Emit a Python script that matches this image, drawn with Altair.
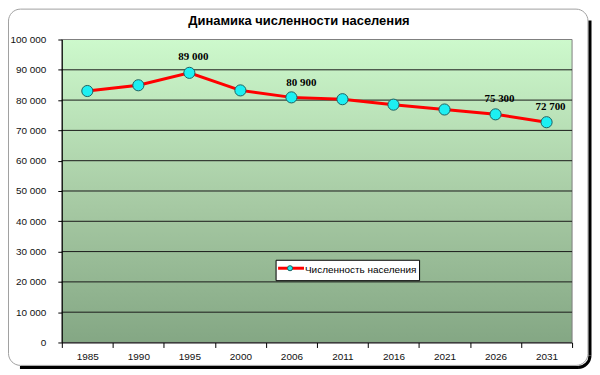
import math
import altair as alt
import pandas as pd

# ---- data ----
years = ["1985", "1990", "1995", "2000", "2006", "2011", "2016", "2021", "2026", "2031"]
population = [83000, 84900, 89000, 83200, 80900, 80300, 78500, 76900, 75300, 72700]
labeled_years = ["1995", "2026", "2031"]
labeled_years_right = ["2006"]
y_ticks = [0, 10000, 20000, 30000, 40000, 50000, 60000, 70000, 80000, 90000, 100000]
grid_values = [10000, 20000, 30000, 40000, 50000, 60000, 70000, 80000, 90000]
title_text = "Динамика численности населения"
legend_text = "Численность населения"

W, H = 512, 304
FONT = "Liberation Sans"
SERIF = "Liberation Serif"

df = pd.DataFrame({"year": years, "population": population})
one = pd.DataFrame({"a": [0]})

xscale = alt.Scale(paddingInner=0, paddingOuter=0)
yscale = alt.Scale(domain=[0, 100000], nice=False)

x_axis = alt.Axis(title=None, labelAngle=0, tickBand="extent", grid=False,
                  domainColor="black", tickColor="black", tickSize=5,
                  labelPadding=4, labelFont=FONT, labelFontSize=10,
                  labelColor="#111111", zindex=1)
y_axis = alt.Axis(title=None, values=y_ticks, grid=False,
                  labelExpr="replace(format(datum.value, ','), ',', ' ')",
                  domainColor="black", tickColor="black", tickSize=4,
                  labelPadding=12, labelFont=FONT, labelFontSize=10,
                  labelColor="#111111", zindex=1)
x_enc = alt.X("year:O", scale=xscale, sort=years, axis=x_axis)
y_enc = alt.Y("population:Q", scale=yscale, axis=y_axis)

# ---- frame with shadow ----
frame = alt.Chart(one).mark_rect(fill="transparent", stroke="#a0a0a0", strokeWidth=1,
                                 cornerRadius=12).encode(
    x=alt.value(-53.5), x2=alt.value(528), y=alt.value(-30.5), y2=alt.value(327))
shadow_r = alt.Chart(one).mark_rule(color="black", strokeWidth=3).encode(
    x=alt.value(530), y=alt.value(-19), y2=alt.value(317))
shadow_b = alt.Chart(one).mark_rule(color="black", strokeWidth=3).encode(
    x=alt.value(-42), x2=alt.value(518), y=alt.value(329))
shadow_c = alt.Chart(one).mark_arc(color="black", theta=math.pi / 2, theta2=math.pi,
                                   innerRadius=10.5, outerRadius=13.5).encode(
    x=alt.value(518), y=alt.value(317))

# ---- plot background gradient ----
grad = alt.Gradient(gradient="linear", x1=0, x2=0, y1=0, y2=1,
                    stops=[alt.GradientStop(color="#cdf9cc", offset=0),
                           alt.GradientStop(color="#a6c9a3", offset=0.55),
                           alt.GradientStop(color="#84a784", offset=1)])
bg = alt.Chart(one).mark_rect(fill=grad, stroke="#808080", strokeWidth=1).encode(
    x=alt.value(0), x2=alt.value(W), y=alt.value(0), y2=alt.value(H))

grid = alt.Chart(pd.DataFrame({"v": grid_values})).mark_rule(
    color="#1a1a1a", strokeWidth=1).encode(
    y=alt.Y("v:Q", scale=yscale, axis=y_axis), x=alt.value(0), x2=alt.value(W))

base = alt.Chart(df).encode(x=x_enc, y=y_enc)
line = base.mark_line(color="#ff0000", strokeWidth=3)
pts = base.mark_point(filled=True, size=125, fill="#1deff2", stroke="#1f6060",
                      strokeWidth=1, opacity=1)

lab_expr = "replace(format(datum.population, ','), ',', ' ')"
labels = base.mark_text(font=SERIF, fontSize=11, fontWeight="bold", color="black",
                        dy=-15.5, dx=4, baseline="middle").encode(
    text="lbl:N").transform_filter(
    alt.FieldOneOfPredicate(field="year", oneOf=labeled_years)).transform_calculate(
    lbl=lab_expr)
labels2 = base.mark_text(font=SERIF, fontSize=11, fontWeight="bold", color="black",
                         dy=-14, dx=10, baseline="middle").encode(
    text="lbl:N").transform_filter(
    alt.FieldOneOfPredicate(field="year", oneOf=labeled_years_right)).transform_calculate(
    lbl=lab_expr)

# ---- legend ----
leg_box = alt.Chart(one).mark_rect(fill="white", stroke="black", strokeWidth=1).encode(
    x=alt.value(215), x2=alt.value(359), y=alt.value(221.5), y2=alt.value(242))
leg_line = alt.Chart(one).mark_rule(color="#ff0000", strokeWidth=3).encode(
    x=alt.value(217), x2=alt.value(243), y=alt.value(229.5))
leg_pt = alt.Chart(one).mark_point(filled=True, size=26, fill="#1deff2",
                                   stroke="#1f6060", strokeWidth=1, opacity=1).encode(
    x=alt.value(229), y=alt.value(229.5))
leg_txt = alt.Chart(one).mark_text(text=legend_text, font=FONT, fontSize=10,
                                   color="black", align="left",
                                   baseline="middle").encode(
    x=alt.value(244), y=alt.value(231))

title = alt.Chart(one).mark_text(text=title_text, font=FONT, fontSize=13,
                                 fontWeight="bold", color="black", align="center",
                                 baseline="middle").encode(
    x=alt.value(238), y=alt.value(-19))

chart = alt.layer(
    frame, shadow_r, shadow_b, shadow_c, bg, grid, line, pts, labels, labels2,
    leg_box, leg_line, leg_pt, leg_txt, title
).properties(
    width=W, height=H,
    autosize=alt.AutoSizeParams(type="none"),
    padding={"left": 54, "top": 31, "right": 20, "bottom": 27},
).configure_view(strokeWidth=0)

chart.save("out.html", embed_options={"renderer": "svg", "actions": False})
